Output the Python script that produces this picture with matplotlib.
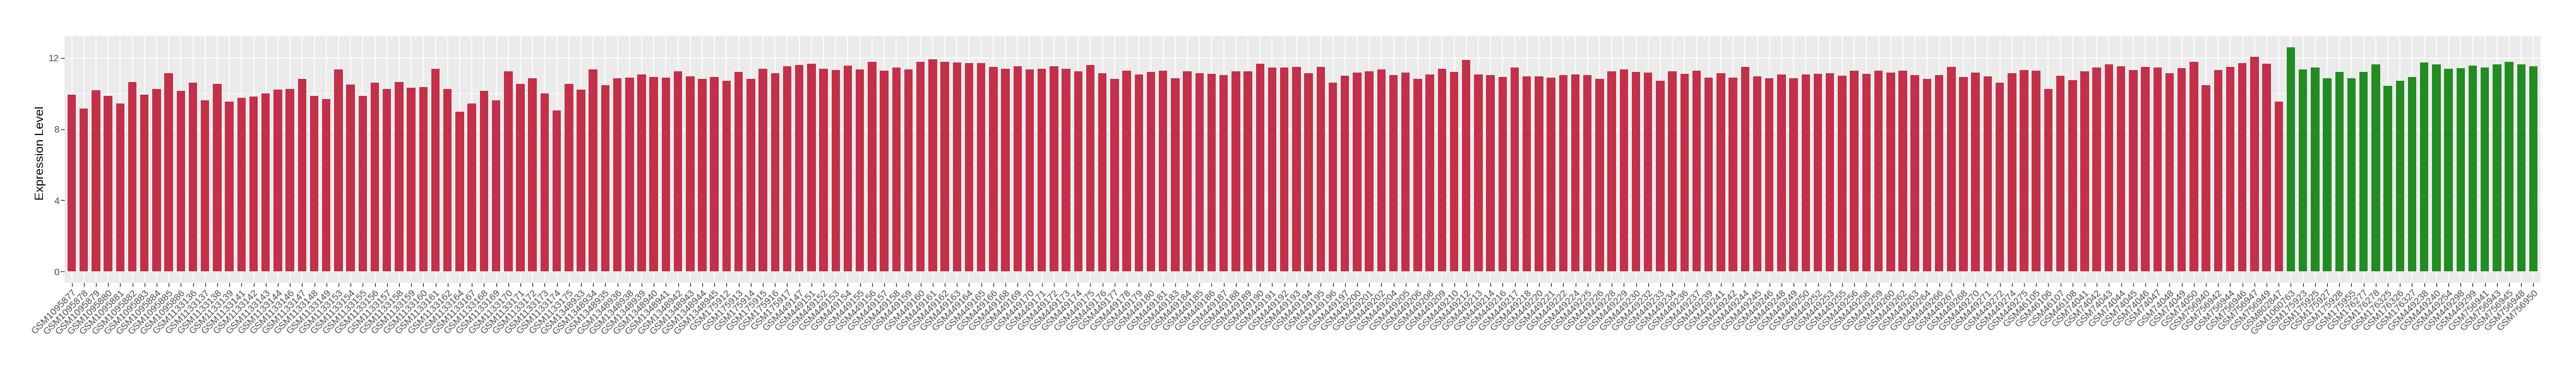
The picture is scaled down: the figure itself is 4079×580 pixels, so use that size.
import numpy as np
import matplotlib
matplotlib.use("Agg")
import matplotlib.pyplot as plt
from matplotlib.ticker import FixedLocator

plt.rcParams['font.family'] = ['Liberation Sans', 'DejaVu Sans']

# sample ids, grouped by GSM prefix (red group first, then green group)
ids_1095 = ['GSM10958%d' % k for k in range(77, 87)]
ids_1133 = ['GSM1133%d' % k for k in [136, 137, 138, 139, 141, 142, 143, 144, 146, 147,
                                      148, 149, 153, 154, 155, 156, 157, 158, 159, 160,
                                      161, 162, 164, 167, 168, 169, 170, 171, 172, 173,
                                      174, 175]]
ids_1348 = ['GSM1348%d' % k for k in [933, 934, 935, 936, 938, 939, 940, 941, 942, 943, 944, 945]]
ids_1759 = ['GSM1759%d' % k for k in range(12, 18)]
ids_449a = ['GSM449%d' % k for k in [147, 151, 152, 153, 154, 155, 156, 157, 158, 159,
                                     160, 161, 162, 163, 164, 165, 166, 168, 169, 170,
                                     171, 172, 173, 174, 175, 176, 177, 178, 179, 180,
                                     181, 183, 184, 185, 186, 187, 188, 189, 190, 191,
                                     192, 193, 194, 195]]
ids_449b = ['GSM449%d' % k for k in [196, 197, 200, 201, 202, 204, 205, 206, 208, 209,
                                     210, 212, 213, 214, 216, 217, 218, 220, 221, 222,
                                     224, 225, 226, 228, 229, 230, 232, 233, 234, 236,
                                     237, 239, 241, 242, 244, 245, 246, 248, 249, 250,
                                     252, 253, 255, 256, 258, 259, 260, 262, 263, 264,
                                     266, 267, 268, 270, 271, 272, 274, 275]]
ids_461 = ['GSM4610%d' % k for k in [5, 6, 7, 8]]
ids_740 = ['GSM740%d' % k for k in range(41, 51)]
ids_756 = ['GSM756%d' % k for k in [940, 942, 944, 946, 947, 949]]
ids_802 = ['GSM802847']

red_labels = (ids_1095 + ids_1133 + ids_1348 + ids_1759 + ids_449a + ids_449b
              + ids_461 + ids_740 + ids_756 + ids_802)

green_labels = ['GSM1060763', 'GSM175923', 'GSM175925', 'GSM175927', 'GSM175928',
                'GSM175955', 'GSM176277', 'GSM176278', 'GSM176325', 'GSM176326',
                'GSM176327', 'GSM449238', 'GSM449240', 'GSM449254', 'GSM449298',
                'GSM449299', 'GSM756941', 'GSM756943', 'GSM756945', 'GSM756948',
                'GSM756950']

red_values = [
    9.92, 9.17, 10.17, 9.88, 9.45, 10.63, 9.95, 10.24, 11.13, 10.13,
    10.60, 9.60, 10.52, 9.56, 9.77, 9.81, 10.02, 10.20, 10.27, 10.81,
    9.88, 9.70, 11.35, 10.49, 9.85, 10.60, 10.24, 10.63, 10.31, 10.35,
    11.38, 10.24, 8.99, 9.45, 10.13, 9.60, 11.24, 10.52, 10.85, 10.02,
    9.06, 10.52, 10.20, 11.35, 10.45, 10.85, 10.88, 11.06, 10.92, 10.88,
    11.24, 10.95, 10.81, 10.92, 10.70, 11.20, 10.81, 11.38, 11.13, 11.52,
    11.60, 11.67, 11.38, 11.31, 11.56, 11.35, 11.77, 11.27, 11.45, 11.35,
    11.77, 11.92, 11.77, 11.74, 11.70, 11.70, 11.49, 11.38, 11.52, 11.35,
    11.38, 11.52, 11.38, 11.24, 11.60, 11.13, 10.81, 11.27, 11.06, 11.20,
    11.27, 10.85, 11.24, 11.13, 11.10, 11.02, 11.24, 11.24, 11.67, 11.45,
    11.45, 11.49, 11.13, 11.49, 10.60, 10.99, 11.17, 11.24, 11.35, 11.02,
    11.17, 10.81, 11.06, 11.38, 11.20, 11.88, 11.06, 11.02, 10.92, 11.45,
    10.95, 10.95, 10.88, 11.02, 11.06, 11.02, 10.81, 11.24, 11.35, 11.20,
    11.17, 10.70, 11.24, 11.10, 11.27, 10.88, 11.13, 10.88, 11.49, 10.95,
    10.85, 11.06, 10.85, 11.06, 11.10, 11.13, 10.99, 11.27, 11.10, 11.27,
    11.17, 11.27, 11.02, 10.81, 11.02, 11.49, 10.92, 11.17, 10.95, 10.60,
    11.13, 11.31, 11.27, 10.27, 10.99, 10.74, 11.24, 11.45, 11.63, 11.52,
    11.31, 11.49, 11.45, 11.13, 11.42, 11.77, 10.45, 11.31, 11.49, 11.70,
    12.06, 11.67, 9.56,
]

green_values = [
    12.60, 11.35, 11.45, 10.85, 11.20, 10.85, 11.20, 11.63, 10.42, 10.70,
    10.92, 11.74, 11.63, 11.38, 11.42, 11.56, 11.45, 11.63, 11.77, 11.63,
    11.52,
]

labels = red_labels + green_labels
values = red_values + green_values
colors = ['#C23049'] * len(red_values) + ['#228B22'] * len(green_values)
n = len(values)
x = np.arange(n)

fig = plt.figure(figsize=(40.8, 5.8), dpi=100)
ax = fig.add_axes([102 / 4080, 1 - 448 / 580, (4023 - 102) / 4080, (448 - 57) / 580])
ax.set_facecolor('#EBEBEB')

ax.bar(x, values, width=0.7, color=colors, zorder=3)

ax.set_xlim(-0.6, n - 1 + 0.6)
ax.set_ylim(-0.63, 13.23)

ax.yaxis.set_major_locator(FixedLocator([0, 4, 8, 12]))
ax.yaxis.set_minor_locator(FixedLocator([2, 6, 10]))
ax.set_xticks(x)
ax.set_xticklabels(labels, rotation=45, ha='right', va='top',
                   rotation_mode='anchor', fontsize=11, color='#4D4D4D')
for lab in ax.get_yticklabels():
    lab.set_fontsize(11)
    lab.set_color('#4D4D4D')

ax.grid(which='major', color='white', linewidth=1.1, zorder=0)
ax.grid(which='minor', axis='y', color='white', linewidth=0.55, zorder=0)
ax.set_axisbelow(True)
ax.tick_params(axis='both', which='major', length=4, width=0.9, color='#333333', pad=2)
ax.tick_params(axis='y', which='minor', length=0)
for sp in ax.spines.values():
    sp.set_visible(False)

fig.text(65 / 4080, 1 - 242 / 580, 'Expression Level', rotation=90,
         ha='center', va='center', fontsize=14, color='black')

fig.savefig('out.png', dpi=100, facecolor='white')
